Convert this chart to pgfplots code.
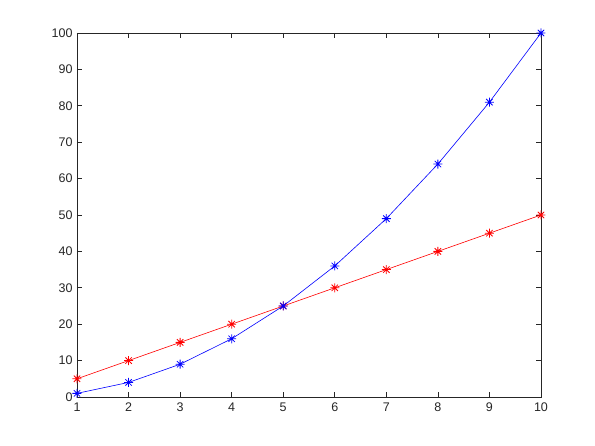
\documentclass[border=0pt]{standalone}
\usepackage{pgfplots}
\pgfplotsset{compat=1.18}
\usepackage{fontspec}
\setmainfont{Liberation Sans}
\definecolor{axgray}{RGB}{38,38,38}
\pgfdeclareplotmark{mstar}{%
  \pgfpathmoveto{\pgfqpoint{-\pgfplotmarksize}{0pt}}\pgfpathlineto{\pgfqpoint{\pgfplotmarksize}{0pt}}%
  \pgfpathmoveto{\pgfqpoint{0pt}{-\pgfplotmarksize}}\pgfpathlineto{\pgfqpoint{0pt}{\pgfplotmarksize}}%
  \pgfpathmoveto{\pgfqpoint{-0.707\pgfplotmarksize}{-0.707\pgfplotmarksize}}\pgfpathlineto{\pgfqpoint{0.707\pgfplotmarksize}{0.707\pgfplotmarksize}}%
  \pgfpathmoveto{\pgfqpoint{-0.707\pgfplotmarksize}{0.707\pgfplotmarksize}}\pgfpathlineto{\pgfqpoint{0.707\pgfplotmarksize}{-0.707\pgfplotmarksize}}%
  \pgfusepathqstroke}
\begin{document}
\begin{tikzpicture}[x=1pt,y=1pt]
\begin{axis}[
  at={(0,0)}, anchor=south west,
  scale only axis, width=464pt, height=364pt,
  xmin=1, xmax=10, ymin=0, ymax=100,
  xtick={1,...,10}, ytick={0,10,...,100},
  tick align=inside, tick pos=both,
  major tick length=5pt,
  axis line style={axgray, line width=0.6pt},
  every tick/.style={axgray, line width=0.6pt},
  tick label style={font=\fontsize{12.5}{14}\selectfont, text=axgray},
  /pgf/number format/assume math mode=true,
  xticklabel style={yshift=-2pt},
  yticklabel style={xshift=-1pt},
  clip=false,
]
\addplot[color=red, line width=0.6pt, mark=mstar, mark size=4.5pt, mark options={line width=0.8pt}] coordinates {
(1,5) (2,10) (3,15) (4,20) (5,25) (6,30) (7,35) (8,40) (9,45) (10,50)};
\addplot[color=blue, line width=0.6pt, mark=mstar, mark size=4.5pt, mark options={line width=0.8pt}] coordinates {
(1,1) (2,4) (3,9) (4,16) (5,25) (6,36) (7,49) (8,64) (9,81) (10,100)};
\end{axis}
\path (-77,-49) rectangle (518,397);
\end{tikzpicture}
\end{document}
